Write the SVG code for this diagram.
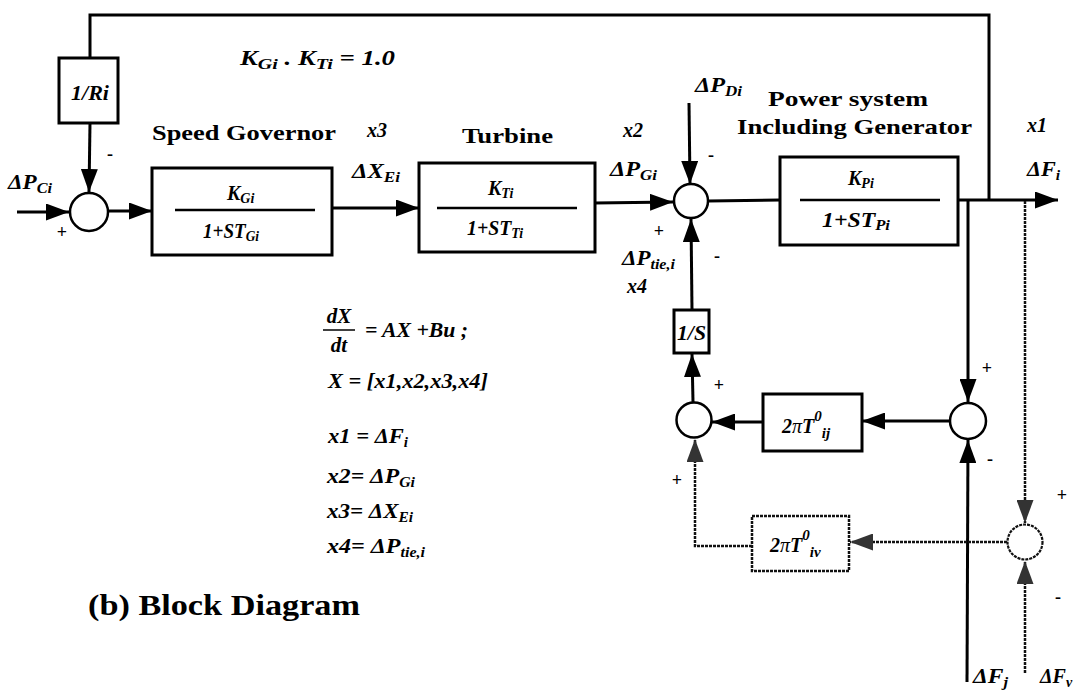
<svg xmlns="http://www.w3.org/2000/svg" width="1081" height="697" viewBox="0 0 1081 697">
<style>
text{font-family:"Liberation Serif","Times New Roman",serif;fill:#000}
.m{font-style:italic;font-weight:bold;font-size:20px}
.e{font-style:italic;font-weight:bold;font-size:21px}
.t{font-weight:bold;font-size:21px}
.s{font-size:18px;font-weight:bold}
.box{fill:#fff;stroke:#000;stroke-width:3}
.dbox{fill:#fff;stroke:#111;stroke-width:2.5;stroke-dasharray:3 1}
.sum{fill:#fff;stroke:#000;stroke-width:2.5}
.dsum{fill:#fff;stroke:#111;stroke-width:2.2;stroke-dasharray:3 1}
.ln{fill:none;stroke:#000;stroke-width:3}
.dl{fill:none;stroke:#111;stroke-width:2.5;stroke-dasharray:3 1}
.fr{stroke:#000;stroke-width:2.5}
</style>
<defs>
<marker id="arr" markerUnits="userSpaceOnUse" markerWidth="23" markerHeight="17" refX="23" refY="8.5" orient="auto"><path d="M0,0 L23,8.5 L0,17 z" fill="#000"/></marker>
<marker id="arrd" markerUnits="userSpaceOnUse" markerWidth="23" markerHeight="17" refX="23" refY="8.5" orient="auto"><path d="M0,0 L23,8.5 L0,17 z" fill="#333"/></marker>
</defs>
<rect width="1081" height="697" fill="#fff"/>
<g id="connectors">
<polyline class="ln" points="989,200 989,15 90,15 90,58"/>
<line class="ln" x1="90" y1="123" x2="89" y2="192" marker-end="url(#arr)"/>
<line class="ln" x1="17" y1="212" x2="69" y2="212" marker-end="url(#arr)"/>
<line class="ln" x1="108" y1="211" x2="152" y2="211" marker-end="url(#arr)"/>
<line class="ln" x1="332" y1="208" x2="419" y2="208" marker-end="url(#arr)"/>
<line class="ln" x1="595" y1="203" x2="673" y2="202" marker-end="url(#arr)"/>
<line class="ln" x1="689" y1="103" x2="690" y2="184" marker-end="url(#arr)"/>
<line class="ln" x1="708" y1="201" x2="780" y2="200"/>
<line class="ln" x1="958" y1="200" x2="1058" y2="200" marker-end="url(#arr)"/>
<line class="ln" x1="968" y1="200" x2="968" y2="402" marker-end="url(#arr)"/>
<line class="ln" x1="692" y1="310" x2="691" y2="219" marker-end="url(#arr)"/>
<line class="ln" x1="693" y1="402" x2="692" y2="354" marker-end="url(#arr)"/>
<line class="ln" x1="763" y1="422" x2="712" y2="422" marker-end="url(#arr)"/>
<line class="ln" x1="950" y1="421" x2="862" y2="421" marker-end="url(#arr)"/>
<line class="ln" x1="967" y1="682" x2="968" y2="440" marker-end="url(#arr)"/>
<line class="dl" x1="1025" y1="201" x2="1025" y2="523" marker-end="url(#arrd)"/>
<line class="dl" x1="1025" y1="673" x2="1025" y2="561" marker-end="url(#arrd)"/>
<line class="dl" x1="1007" y1="542" x2="850" y2="542" marker-end="url(#arrd)"/>
<polyline class="dl" points="752,546 695,546 695,439" marker-end="url(#arrd)"/>
</g>
<g id="ri">
<rect class="box" x="59" y="58" width="59" height="65"/>
<text class="m" x="90" y="100" text-anchor="middle" font-size="19" textLength="38" lengthAdjust="spacingAndGlyphs">1/Ri</text>
</g>
<g id="sum1"><circle class="sum" cx="89" cy="212" r="19"/></g>
<g id="governor">
<rect class="box" x="152" y="168" width="180" height="87"/>
<line class="fr" x1="175" y1="210" x2="315" y2="210"/>
<text class="m" x="227" y="200">K<tspan font-size="14" dy="3">Gi</tspan></text>
<text class="m" x="203" y="238" textLength="56" lengthAdjust="spacingAndGlyphs">1+ST<tspan font-size="14" dy="3">Gi</tspan></text>
</g>
<g id="turbine">
<rect class="box" x="419" y="163" width="176" height="89"/>
<line class="fr" x1="437" y1="208" x2="577" y2="208"/>
<text class="m" x="488" y="195">K<tspan font-size="14" dy="3">Ti</tspan></text>
<text class="m" x="467" y="235" textLength="56" lengthAdjust="spacingAndGlyphs">1+ST<tspan font-size="14" dy="3">Ti</tspan></text>
</g>
<g id="sum2"><circle class="sum" cx="691" cy="201" r="17"/></g>
<g id="power">
<rect class="box" x="780" y="157" width="178" height="88"/>
<line class="fr" x1="800" y1="200" x2="940" y2="200"/>
<text class="m" x="848" y="185">K<tspan font-size="14" dy="3">Pi</tspan></text>
<text class="m" x="822" y="227" textLength="68" lengthAdjust="spacingAndGlyphs">1+ST<tspan font-size="14" dy="3">Pi</tspan></text>
</g>
<g id="integrator">
<rect class="box" x="674" y="310" width="35" height="43" stroke-width="2.5"/>
<text class="m" x="691.5" y="340" text-anchor="middle" font-size="18" textLength="29" lengthAdjust="spacingAndGlyphs">1/S</text>
</g>
<g id="sum3"><circle class="sum" cx="694" cy="420" r="17.5"/></g>
<g id="tij">
<rect class="box" x="763" y="394" width="99" height="57"/>
<text class="m" x="782" y="433" font-size="22">2<tspan font-weight="normal">π</tspan>T<tspan font-size="15" dy="-12">0</tspan><tspan font-size="15" dy="17">ij</tspan></text>
</g>
<g id="sum4"><circle class="sum" cx="968" cy="421" r="18"/></g>
<g id="sum5"><circle class="dsum" cx="1025" cy="542" r="17.5"/></g>
<g id="tiv">
<rect class="dbox" x="752" y="516" width="97" height="55"/>
<text class="m" x="770" y="552" font-size="22">2<tspan font-weight="normal">π</tspan>T<tspan font-size="15" dy="-12">0</tspan><tspan font-size="15" dy="17">iv</tspan></text>
</g>
<g id="labels">
<text class="m" x="240" y="65" font-size="21" textLength="155" lengthAdjust="spacingAndGlyphs">K<tspan font-size="15" dy="4">Gi</tspan><tspan dy="-4">  . K</tspan><tspan font-size="15" dy="4">Ti</tspan><tspan dy="-4"> = 1.0</tspan></text>
<text class="t" x="152" y="140" textLength="184" lengthAdjust="spacingAndGlyphs">Speed Governor</text>
<text class="t" x="462" y="143" textLength="91" lengthAdjust="spacingAndGlyphs">Turbine</text>
<text class="t" x="768" y="106" textLength="160" lengthAdjust="spacingAndGlyphs">Power system</text>
<text class="t" x="737" y="134" textLength="235" lengthAdjust="spacingAndGlyphs">Including Generator</text>
<text class="m" x="8" y="189" textLength="44" lengthAdjust="spacingAndGlyphs">ΔP<tspan font-size="14" dy="4">Ci</tspan></text>
<text class="m" x="367" y="137">x3</text>
<text class="m" x="352" y="178" textLength="48" lengthAdjust="spacingAndGlyphs">ΔX<tspan font-size="14" dy="4">Ei</tspan></text>
<text class="m" x="623" y="137">x2</text>
<text class="m" x="610" y="176" textLength="47" lengthAdjust="spacingAndGlyphs">ΔP<tspan font-size="14" dy="4">Gi</tspan></text>
<text class="m" x="695" y="92" textLength="47" lengthAdjust="spacingAndGlyphs">ΔP<tspan font-size="14" dy="4">Di</tspan></text>
<text class="m" x="622" y="265" textLength="53" lengthAdjust="spacingAndGlyphs">ΔP<tspan font-size="14" dy="4">tie,i</tspan></text>
<text class="m" x="627" y="293">x4</text>
<text class="m" x="1027" y="132">x1</text>
<text class="m" x="1027" y="176" textLength="33" lengthAdjust="spacingAndGlyphs">ΔF<tspan font-size="14" dy="4">i</tspan></text>
<text class="m" x="973" y="683" textLength="35" lengthAdjust="spacingAndGlyphs">ΔF<tspan font-size="14" dy="4">j</tspan></text>
<text class="m" x="1040" y="683">ΔF<tspan font-size="14" dy="4">v</tspan></text>
<text class="s" x="62" y="238" text-anchor="middle">+</text>
<text class="s" x="110" y="160" text-anchor="middle">-</text>
<text class="s" x="711" y="161" text-anchor="middle">-</text>
<text class="s" x="659" y="237" text-anchor="middle">+</text>
<text class="s" x="717" y="262" text-anchor="middle">-</text>
<text class="s" x="719" y="391" text-anchor="middle">+</text>
<text class="s" x="987" y="374" text-anchor="middle">+</text>
<text class="s" x="990" y="465" text-anchor="middle">-</text>
<text class="s" x="677" y="486" text-anchor="middle">+</text>
<text class="s" x="1062" y="501" text-anchor="middle">+</text>
<text class="s" x="1058" y="603" text-anchor="middle">-</text>
</g>
<g id="equations">
<text class="e" x="339" y="323" text-anchor="middle">dX</text>
<line x1="323" y1="330" x2="355" y2="330" stroke="#000" stroke-width="1.5"/>
<text class="e" x="339" y="352" text-anchor="middle">dt</text>
<text class="e" x="365" y="337" textLength="103" lengthAdjust="spacingAndGlyphs">= AX +Bu ;</text>
<text class="e" x="328" y="388" textLength="160" lengthAdjust="spacingAndGlyphs">X = [x1,x2,x3,x4]</text>
<text class="e" x="328" y="443" textLength="80" lengthAdjust="spacingAndGlyphs">x1 = ΔF<tspan font-size="14" dy="4">i</tspan></text>
<text class="e" x="327" y="483" textLength="88" lengthAdjust="spacingAndGlyphs">x2= ΔP<tspan font-size="14" dy="4">Gi</tspan></text>
<text class="e" x="327" y="518" textLength="86" lengthAdjust="spacingAndGlyphs">x3= ΔX<tspan font-size="14" dy="4">Ei</tspan></text>
<text class="e" x="327" y="553" textLength="98" lengthAdjust="spacingAndGlyphs">x4= ΔP<tspan font-size="14" dy="4">tie,i</tspan></text>
</g>
<text x="88" y="615" font-weight="bold" font-size="30" textLength="272" lengthAdjust="spacingAndGlyphs">(b) Block Diagram</text>
</svg>
